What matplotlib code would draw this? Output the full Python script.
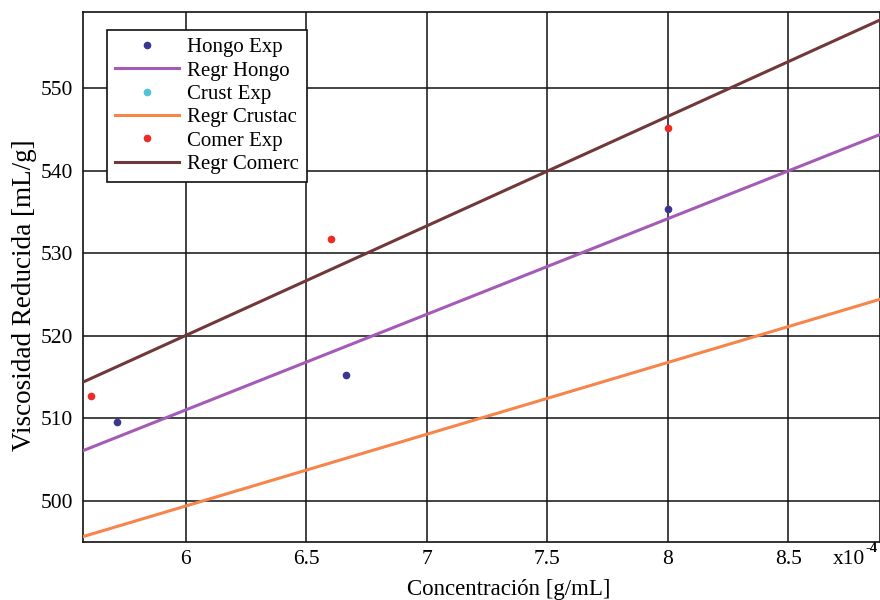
import matplotlib
matplotlib.use("Agg")
import matplotlib.pyplot as plt

plt.rcParams['font.family'] = ['Liberation Serif', 'DejaVu Serif']

# data (concentration in units of 1e-4 g/mL)
hongo_x = [5.714, 6.664, 8.0]
hongo_y = [509.6, 515.3, 535.4]
crust_x = []
crust_y = []
comer_x = [5.606, 6.60, 8.0]
comer_y = [512.7, 531.7, 545.1]

reg_x = [5.573, 8.90]
reg_hongo = [506.1, 544.6]
reg_crust = [495.7, 524.6]
reg_comer = [514.4, 558.5]

xticks = [6, 6.5, 7, 7.5, 8, 8.5]
xtick_labels = ["6", "6.5", "7", "7.5", "8", "8.5"]
yticks = [500, 510, 520, 530, 540, 550]

fig = plt.figure(figsize=(8.8, 6.0), dpi=100)
ax = fig.add_axes([0.0943, 0.0967, 0.9057, 0.8833])

ax.plot(hongo_x, hongo_y, 'o', color='#3d3690', ms=4.5, label='Hongo Exp', zorder=4)
ax.plot(reg_x, reg_hongo, '-', color='#a45bb5', lw=2.2, label='Regr Hongo', zorder=3)
ax.plot(crust_x, crust_y, 'o', color='#4ec4d6', ms=4.5, label='Crust Exp', zorder=4)
ax.plot(reg_x, reg_crust, '-', color='#f7854a', lw=2.2, label='Regr Crustac', zorder=3)
ax.plot(comer_x, comer_y, 'o', color='#ec2b26', ms=4.5, label='Comer Exp', zorder=4)
ax.plot(reg_x, reg_comer, '-', color='#703838', lw=2.2, label='Regr Comerc', zorder=3)

ax.set_xlim(5.573, 8.88)
ax.set_ylim(495.05, 559.2)
ax.set_xticks(xticks)
ax.set_xticklabels(xtick_labels)
ax.set_yticks(yticks)
ax.grid(True, color='#111111', lw=1.1)
ax.set_axisbelow(True)
ax.tick_params(length=0, labelsize=15.5)
ax.tick_params(axis='y', pad=7)
ax.tick_params(axis='x', pad=6)
for s in ax.spines.values():
    s.set_color('#111111')
    s.set_linewidth(1.2)

ax.set_ylabel('Viscosidad Reducida [mL/g]', fontsize=19.5)
ax.yaxis.set_label_coords(-0.0728, 0.466)
ax.yaxis.label.set_va('center')
ax.set_xlabel('Concentración [g/mL]', fontsize=16.5)
ax.xaxis.set_label_coords((509 - 83) / 797, -0.09)
ax.xaxis.label.set_va('center')

fig.text(833 / 880, 1 - 560 / 600, 'x10', fontsize=15.5, ha='left', va='center')
fig.text(865 / 880, 1 - 549 / 600, '-4', fontsize=10.5, ha='left', va='center',
         fontweight='bold')

leg = ax.legend(loc='upper left', bbox_to_anchor=(0.03, 0.966), fontsize=15,
                frameon=True, fancybox=False, framealpha=1, edgecolor='#111111',
                borderpad=0.37, labelspacing=0.18, handlelength=3.1,
                handletextpad=0.38, borderaxespad=0)
leg.get_frame().set_linewidth(1.2)

fig.savefig('out.png', dpi=100)
